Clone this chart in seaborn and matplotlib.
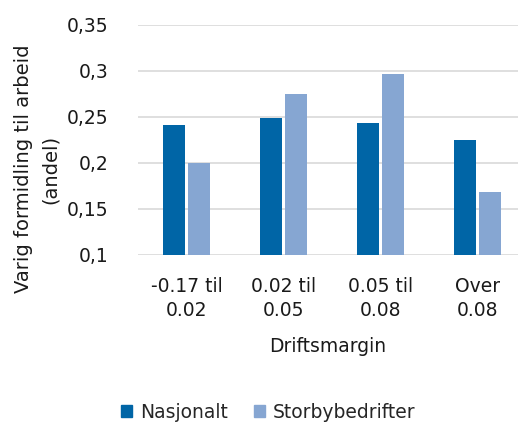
import matplotlib
matplotlib.use("Agg")
import matplotlib.pyplot as plt
import seaborn as sns
import pandas as pd
from matplotlib.ticker import FuncFormatter

categories = ["-0.17 til\n0.02", "0.02 til\n0.05", "0.05 til\n0.08", "Over\n0.08"]
nasjonalt = [0.241, 0.249, 0.243, 0.225]
storby = [0.200, 0.275, 0.297, 0.168]
series = ["Nasjonalt", "Storbybedrifter"]
colors = ["#0065A6", "#86A6D2"]

df = pd.DataFrame({
    "kategori": categories * 2,
    "verdi": nasjonalt + storby,
    "gruppe": [series[0]] * 4 + [series[1]] * 4,
})

sns.set_theme(style="white")
plt.rcParams["font.family"] = ["DejaVu Sans"]
FS = 13.5
TXT = "#1a1a1a"

fig = plt.figure(figsize=(5.18, 4.23), dpi=100)
ax = fig.add_axes([138 / 518, 1 - 255 / 423, 380 / 518, 230 / 423])

sns.barplot(data=df, x="kategori", y="verdi", hue="gruppe", order=categories,
            hue_order=series, palette=colors, saturation=1, width=0.515, gap=0.12,
            linewidth=0, ax=ax, legend=False, zorder=3)

ax.set_ylim(0.1, 0.35)
ax.set_yticks([0.1, 0.15, 0.2, 0.25, 0.3, 0.35])
ax.yaxis.set_major_formatter(FuncFormatter(lambda v, p: f"{v:g}".replace(".", ",")))
ax.set_xlim(-0.5, 3.42)
ax.grid(axis="y", color="#D9D9D9", linewidth=1.2, zorder=0)
ax.grid(axis="x", visible=False)
for s in ax.spines.values():
    s.set_visible(False)
ax.tick_params(axis="y", length=0, pad=21, labelsize=FS, labelcolor=TXT)
ax.tick_params(axis="x", length=0, pad=16, labelsize=FS, labelcolor=TXT)
for lbl in ax.get_xticklabels():
    lbl.set_linespacing(1.35)
ax.set_xlabel("Driftsmargin", fontsize=FS, color=TXT, labelpad=12)
ax.set_ylabel("")
fig.text(37 / 518, 1 - 169 / 423, "Varig formidling til arbeid\n(andel)", rotation=90,
         ha="center", va="center", fontsize=FS + 0.5, color=TXT, linespacing=1.5)

handles = [plt.Rectangle((0, 0), 1, 1, color=c) for c in colors]
fig.legend(handles, series, loc="center", bbox_to_anchor=(268 / 518, 1 - 412 / 423),
           ncol=2, frameon=False, fontsize=FS, handlelength=0.6, handleheight=0.6,
           handletextpad=0.4, columnspacing=1.4)

fig.savefig("out.png", dpi=100)
